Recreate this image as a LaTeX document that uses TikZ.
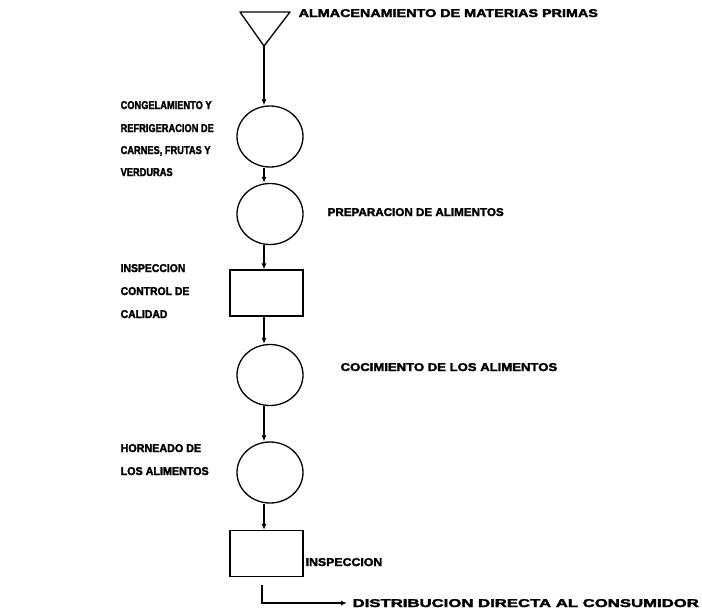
\documentclass[tikz,border=0pt]{standalone}
\usepackage{fontspec}
\newfontfamily\lbl[FakeBold=2.4]{Liberation Sans}
\usetikzlibrary{arrows.meta,shapes.geometric}
\newcommand\hsq[2]{\scalebox{#1}[1]{#2}}
\begin{document}
\begin{tikzpicture}[x=1pt,y=-1pt,
  line width=1.3pt,
  ell/.style={draw,ellipse,minimum width=66pt,minimum height=61pt,inner sep=0pt},
  box/.style={draw,rectangle,minimum width=73pt,minimum height=46pt,inner sep=0pt},
  lab/.style={font=\lbl\bfseries\fontsize{11.3}{13}\selectfont,inner sep=0pt,anchor=base west},
  flow/.style={-{Latex[length=6pt,width=5pt]}}]
\useasboundingbox (0,0) rectangle (702,614);
% triangle
\coordinate (t1) at (240,12);
\coordinate (t2) at (290,12);
\coordinate (tap) at (264,46);
\draw[line join=round] (t1) -- (t2) -- (tap) -- cycle;
\node[ell] (e1) at (270,136.5) {};
\node[ell] (e2) at (270,214) {};
\node[box] (r1) at (266.5,293) {};
\node[box] (r2) at (266.5,553.5) {};
\node[ell] (e3) at (270,375) {};
\node[ell] (e4) at (270,472.5) {};
\draw[flow] (tap) -- (tap |- e1.north);
\draw[flow] (e1.south -| tap) -- (e2.north -| tap);
\draw[flow] (e2.south -| tap) -- (r1.north -| tap);
\draw[flow] (r1.south -| tap) -- (e3.north -| tap);
\draw[flow] (e3.south -| tap) -- (e4.north -| tap);
\draw[flow] (e4.south -| tap) -- (r2.north -| tap);
\coordinate (b0) at (262,585);
\coordinate (b1) at (262,603);
\coordinate (b2) at (347,603);
\draw[flow] (b0) -- (b1) -- (b2);
% labels
\node[lab] (l0) at (298,17) {\hsq{1.27}{ALMACENAMIENTO DE MATERIAS PRIMAS}};
\node[lab] (l1a) at (120,109) {\hsq{0.82}{CONGELAMIENTO Y}};
\node[lab] (l1b) at (120,132) {\hsq{0.82}{REFRIGERACION DE}};
\node[lab] (l1c) at (120,154) {\hsq{0.82}{CARNES, FRUTAS Y}};
\node[lab] (l1d) at (120,176) {\hsq{0.82}{VERDURAS}};
\node[lab] (l2) at (327,216) {\hsq{1.03}{PREPARACION DE ALIMENTOS}};
\node[lab] (l3a) at (120,272) {\hsq{0.92}{INSPECCION}};
\node[lab] (l3b) at (120,295) {\hsq{0.92}{CONTROL DE}};
\node[lab] (l3c) at (120,318) {\hsq{0.92}{CALIDAD}};
\node[lab] (l4) at (340,371) {\hsq{1.16}{COCIMIENTO DE LOS ALIMENTOS}};
\node[lab] (l5a) at (120,452) {\hsq{0.95}{HORNEADO DE}};
\node[lab] (l5b) at (120,475) {\hsq{0.95}{LOS ALIMENTOS}};
\node[lab] (l6) at (305,566) {\hsq{1.09}{INSPECCION}};
\node[lab] (l7) at (352,607) {\hsq{1.48}{DISTRIBUCION DIRECTA AL CONSUMIDOR}};
\end{tikzpicture}
\end{document}
